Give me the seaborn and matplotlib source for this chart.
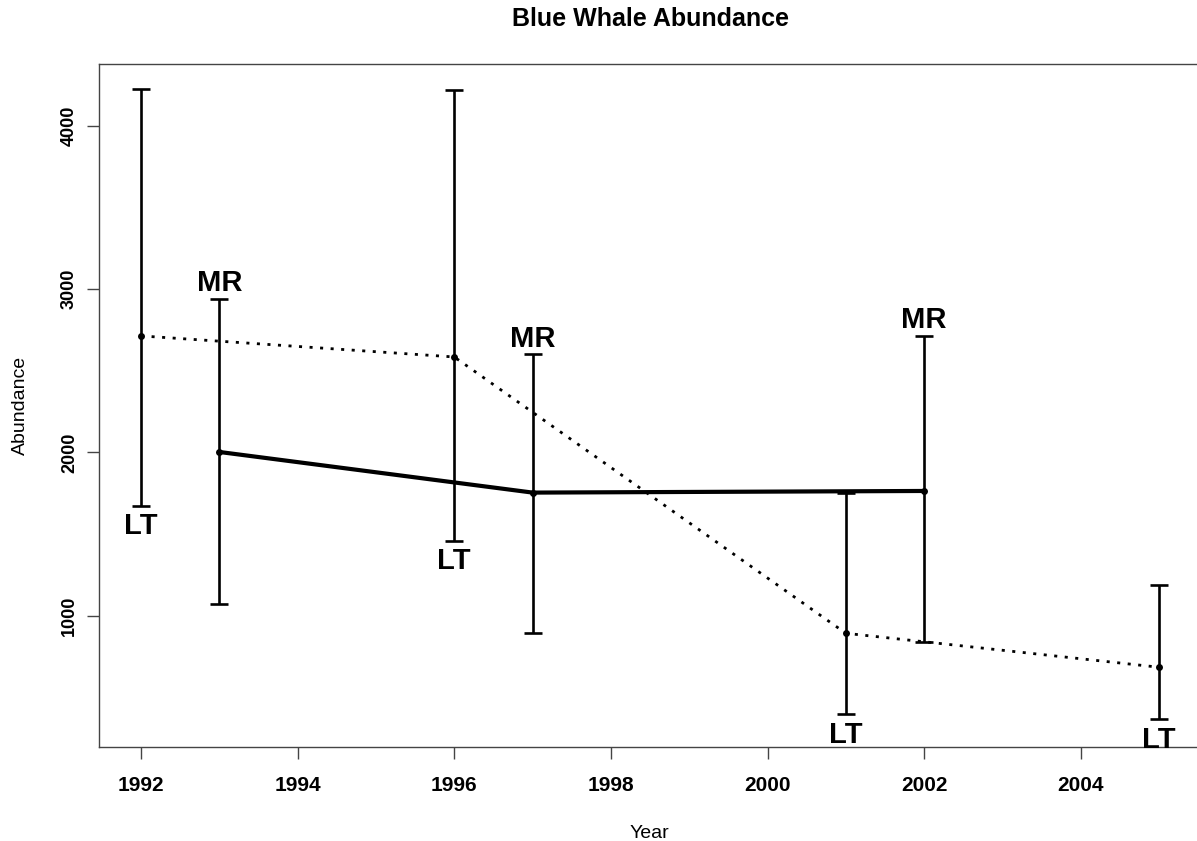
import matplotlib
matplotlib.use("Agg")
import matplotlib.pyplot as plt
import seaborn as sns
import pandas as pd

# Line transect (LT) estimates
lt_year = [1992, 1996, 2001, 2005]
lt_est = [2714, 2585, 892, 684]
lt_low = [1672, 1458, 396, 365]
lt_high = [4227, 4221, 1752, 1188]

# Mark-recapture (MR) estimates
mr_year = [1993, 1997, 2002]
mr_est = [2003, 1754, 1764]
mr_low = [1072, 893, 839]
mr_high = [2941, 2602, 2714]

x_ticks = [1992, 1994, 1996, 1998, 2000, 2002, 2004]
y_ticks = [1000, 2000, 3000, 4000]

sns.set_style("white")
plt.rcParams['font.family'] = ['Liberation Sans', 'DejaVu Sans']
plt.rcParams['text.color'] = 'black'

lt = pd.DataFrame({"year": lt_year, "est": lt_est, "low": lt_low, "high": lt_high})
mr = pd.DataFrame({"year": mr_year, "est": mr_est, "low": mr_low, "high": mr_high})

fig = plt.figure(figsize=(11.97, 8.41), dpi=100)
ax = fig.add_axes([0.0825, 0.1121, 1.003 - 0.0825, 0.9239 - 0.1121])

# estimates
sns.lineplot(data=lt, x="year", y="est", ax=ax, color="black", lw=2,
             linestyle=(0, (1.1, 2.7)), marker="o", markersize=5,
             markeredgewidth=0, estimator=None, sort=False)
sns.lineplot(data=mr, x="year", y="est", ax=ax, color="black", lw=3,
             marker="o", markersize=5, markeredgewidth=0,
             estimator=None, sort=False)

# confidence intervals
for df in (lt, mr):
    ax.errorbar(df["year"], df["est"],
                yerr=[df["est"] - df["low"], df["high"] - df["est"]],
                fmt="none", ecolor="black", elinewidth=1.9, capsize=6.5,
                capthick=1.9)

for x, y in zip(lt_year, lt_low):
    ax.annotate("LT", (x, y), xytext=(0, -14.7), textcoords="offset points",
                ha="center", va="center", fontsize=21, fontweight="bold")
for x, y in zip(mr_year, mr_high):
    ax.annotate("MR", (x, y), xytext=(0, 11.2), textcoords="offset points",
                ha="center", va="center", fontsize=21, fontweight="bold")

ax.set_xlim(1991.46, 2005.53)
ax.set_ylim(197, 4380)
ax.set_xticks(x_ticks)
ax.set_yticks(y_ticks)
ax.set_xticklabels([str(t) for t in x_ticks], fontsize=15, fontweight="bold")
ax.set_yticklabels([str(t) for t in y_ticks], fontsize=13, fontweight="bold",
                   rotation=90, va="center")
ax.tick_params(axis="x", direction="out", length=8.5, width=1, color="#444",
               labelcolor="black", pad=12.5, bottom=True)
ax.tick_params(axis="y", direction="out", length=8.5, width=1, color="#444",
               labelcolor="black", pad=6.5, left=True)
for s in ax.spines.values():
    s.set_color("#444")
    s.set_linewidth(1)
ax.spines["right"].set_visible(False)
ax.set_xlabel("")
ax.set_ylabel("")

fig.text(650 / 1197, 1 - 26 / 841, "Blue Whale Abundance", ha="center",
         va="baseline", fontsize=18, fontweight="bold")
fig.text(649 / 1197, 1 - 838 / 841, "Year", ha="center", va="baseline",
         fontsize=14)
fig.text(20 / 1197, 1 - 405 / 841, "Abundance", ha="center", va="center",
         rotation=90, fontsize=14)

fig.savefig("out.png", dpi=100)
